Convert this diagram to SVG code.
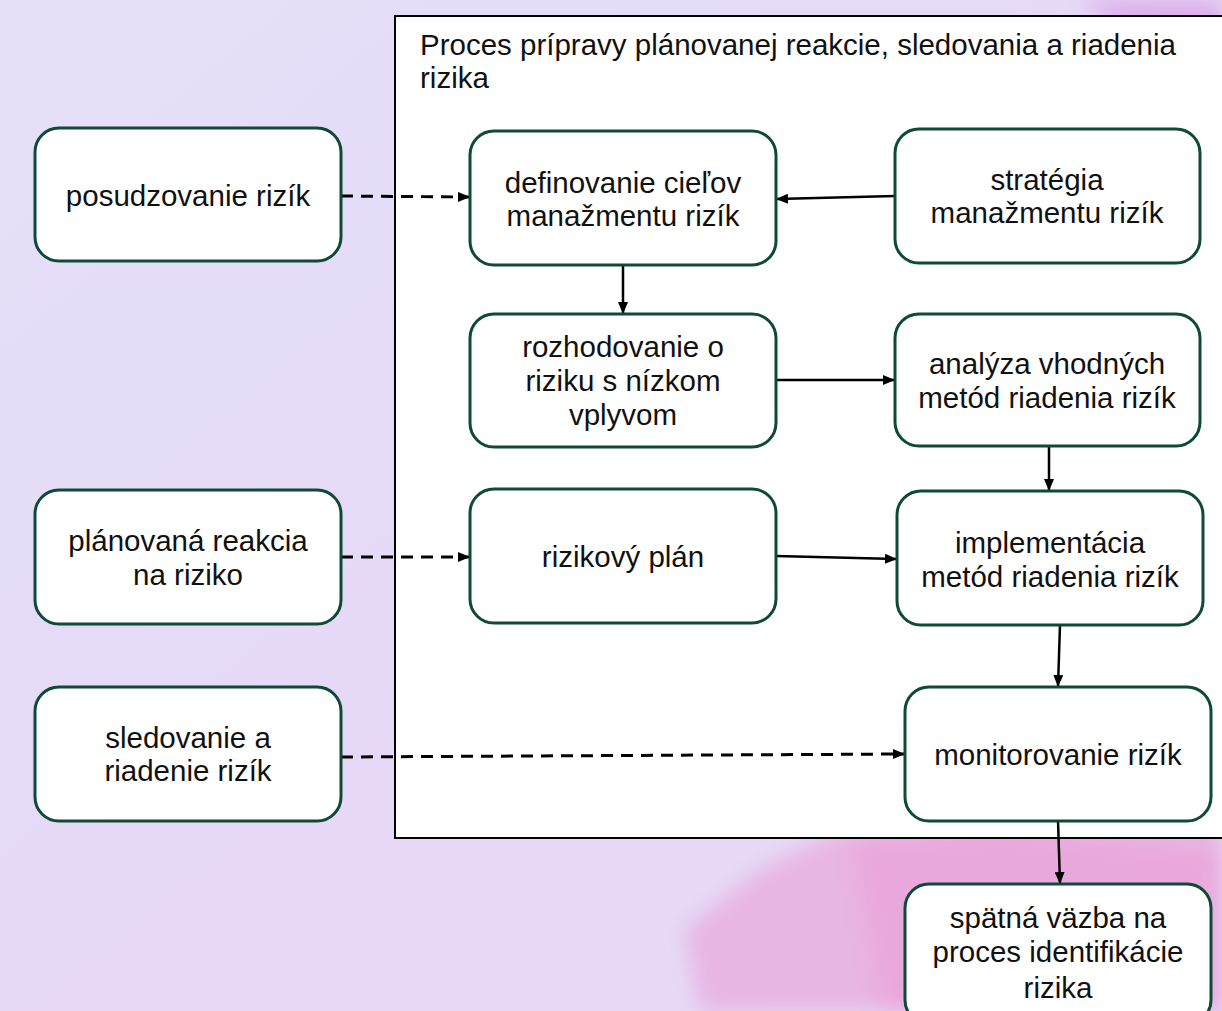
<svg xmlns="http://www.w3.org/2000/svg" width="1222" height="1011" viewBox="0 0 1222 1011">
<defs>
<style>
.node rect{fill:#ffffff;stroke:#0f4a36;stroke-width:3}
.node text,.title{font-family:"Liberation Sans",Arial,sans-serif;font-size:29.5px;fill:#111111}
.node text{text-anchor:middle}
.c{fill:none;stroke:#000000;stroke-width:2.5}
.d{stroke-dasharray:12 8;stroke-width:3}
</style>
<linearGradient id="bg" x1="0" y1="0" x2="1" y2="1">
<stop offset="0" stop-color="#e5e0f8"/>
<stop offset="0.5" stop-color="#e6d9f7"/>
<stop offset="1" stop-color="#e7d8f6"/>
</linearGradient>
<filter id="blur" x="-20%" y="-20%" width="140%" height="140%"><feGaussianBlur stdDeviation="10"/></filter>
<marker id="ah" viewBox="0 0 12 10" refX="11" refY="5" markerWidth="12" markerHeight="10" markerUnits="userSpaceOnUse" orient="auto">
<path d="M0,0 L12,5 L0,10 Z" fill="#000"/>
</marker>
</defs>
<rect width="1222" height="1011" fill="url(#bg)"/>
<g filter="url(#blur)">
<path d="M700,1011 L685,930 L760,870 L840,830 L1222,800 L1222,1011 Z" fill="#e8b6e3"/>
<path d="M850,840 L1000,830 L1222,850 L1222,1011 L880,1011 Z" fill="#e9a8dc"/>
<path d="M1080,0 L1222,0 L1222,40 L1120,30 Z" fill="#dcaeea"/>
</g>
<rect x="395" y="16" width="840" height="822" fill="#ffffff" stroke="#000000" stroke-width="2"/>
<text class="title" x="420" y="55">Proces prípravy plánovanej reakcie, sledovania a riadenia</text>
<text class="title" x="420" y="88">rizika</text>
<g id="connectors">
<path class="c d" d="M341,196 L469,197" marker-end="url(#ah)"/>
<path class="c d" d="M341,557 L469,557" marker-end="url(#ah)"/>
<path class="c d" d="M341,757 L904,754" marker-end="url(#ah)"/>
<path class="c" d="M895,196 L777,199" marker-end="url(#ah)"/>
<path class="c" d="M623,265 L623,313" marker-end="url(#ah)"/>
<path class="c" d="M776,380 L894,380" marker-end="url(#ah)"/>
<path class="c" d="M1049,446 L1049,490" marker-end="url(#ah)"/>
<path class="c" d="M776,556 L896,559" marker-end="url(#ah)"/>
<path class="c" d="M1060,625 L1058,686" marker-end="url(#ah)"/>
<path class="c" d="M1058,821 L1060,883" marker-end="url(#ah)"/>
</g>
<g id="n-posudzovanie" class="node"><rect x="35" y="128" width="306" height="133" rx="24"/><text x="188" y="206">posudzovanie rizík</text></g>
<g id="n-planovana" class="node"><rect x="35" y="490" width="306" height="134" rx="24"/><text x="188" y="551">plánovaná reakcia</text><text x="188" y="585">na riziko</text></g>
<g id="n-sledovanie" class="node"><rect x="35" y="687" width="306" height="134" rx="24"/><text x="188" y="748">sledovanie a</text><text x="188" y="781">riadenie rizík</text></g>
<g id="n-definovanie" class="node"><rect x="470" y="131" width="306" height="134" rx="24"/><text x="623" y="193">definovanie cieľov</text><text x="623" y="226">manažmentu rizík</text></g>
<g id="n-rozhodovanie" class="node"><rect x="470" y="314" width="306" height="133" rx="24"/><text x="623" y="357">rozhodovanie o</text><text x="623" y="391">riziku s nízkom</text><text x="623" y="425">vplyvom</text></g>
<g id="n-rizikovy" class="node"><rect x="470" y="489" width="306" height="134" rx="24"/><text x="623" y="567">rizikový plán</text></g>
<g id="n-strategia" class="node"><rect x="895" y="129" width="305" height="134" rx="24"/><text x="1047" y="190">stratégia</text><text x="1047" y="223">manažmentu rizík</text></g>
<g id="n-analyza" class="node"><rect x="895" y="314" width="305" height="132" rx="24"/><text x="1047" y="374">analýza vhodných</text><text x="1047" y="408">metód riadenia rizík</text></g>
<g id="n-implementacia" class="node"><rect x="897" y="491" width="306" height="134" rx="24"/><text x="1050" y="553">implementácia</text><text x="1050" y="587">metód riadenia rizík</text></g>
<g id="n-monitorovanie" class="node"><rect x="905" y="687" width="306" height="134" rx="24"/><text x="1058" y="765">monitorovanie rizík</text></g>
<g id="n-spatna" class="node"><rect x="905" y="884" width="306" height="140" rx="24"/><text x="1058" y="928">spätná väzba na</text><text x="1058" y="962">proces identifikácie</text><text x="1058" y="998">rizika</text></g>
</svg>
